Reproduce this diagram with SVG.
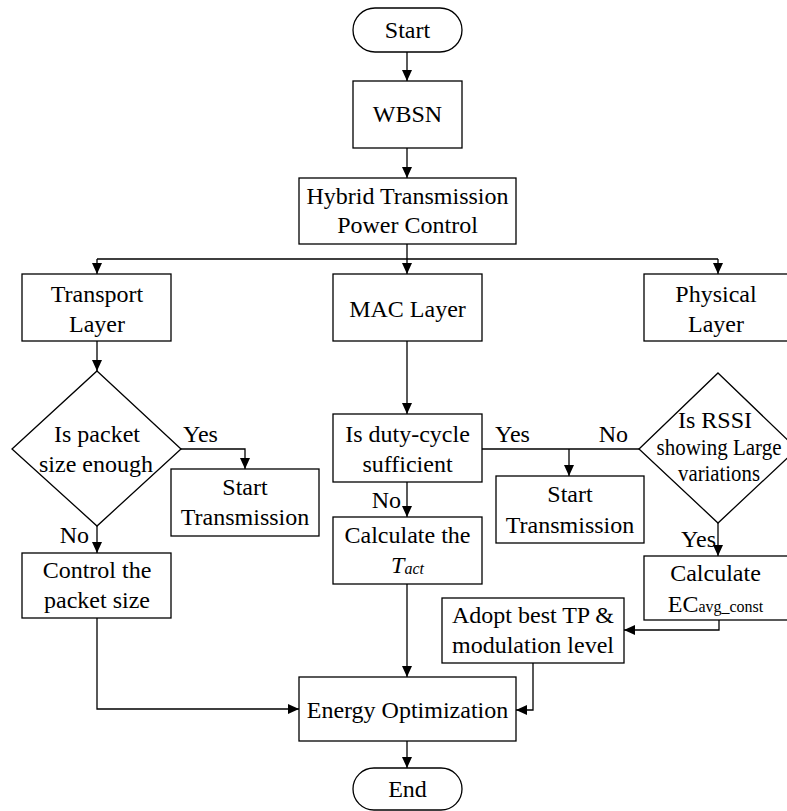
<svg xmlns="http://www.w3.org/2000/svg" width="787" height="811" viewBox="0 0 787 811">
<defs>
<marker id="arr" markerUnits="userSpaceOnUse" markerWidth="12" markerHeight="10" refX="11" refY="5" orient="auto">
<path d="M0,0 L11,5 L0,10 Z" fill="#000"/>
</marker>
<style>
.box{fill:#fff;stroke:#000;stroke-width:1.3}
.t{font-family:"Liberation Serif","Times New Roman",serif;font-size:24px;fill:#000;text-anchor:middle}
.l{font-family:"Liberation Serif","Times New Roman",serif;font-size:24px;fill:#000}
.sub{font-size:16px}
.c{fill:none;stroke:#000;stroke-width:1.3}
.a{marker-end:url(#arr)}
</style>
</defs>
<rect width="787" height="811" fill="#fff"/>
<g id="connectors">
<path class="c a" d="M407,52 V81"/>
<path class="c a" d="M407,148 V178"/>
<path class="c" d="M407,244 V259 M97,259 H718"/>
<path class="c a" d="M97,259 V274"/>
<path class="c a" d="M407,259 V274"/>
<path class="c a" d="M718,259 V274"/>
<path class="c a" d="M97,341 V371"/>
<path class="c a" d="M181,449 H245 V469"/>
<path class="c a" d="M97,526 V553"/>
<path class="c a" d="M97,618 V709 H299"/>
<path class="c a" d="M407,341 V414"/>
<path class="c a" d="M407,482 V517"/>
<path class="c" d="M482,449 H639"/>
<path class="c a" d="M569,449 V476"/>
<path class="c a" d="M407,584 V677"/>
<path class="c a" d="M718,523 V556"/>
<path class="c a" d="M719,620 V630 H624"/>
<path class="c a" d="M533,663 V710 H516"/>
<path class="c a" d="M407,741 V768"/>
</g>
<g id="start"><rect class="box" x="353" y="8" width="109" height="44" rx="22"/><text class="t" x="407.5" y="38">Start</text></g>
<g id="wbsn"><rect class="box" x="353" y="81" width="109" height="67"/><text class="t" x="407.5" y="122">WBSN</text></g>
<g id="hybrid"><rect class="box" x="299" y="178" width="217" height="66"/><text class="t" x="407.5" y="204">Hybrid Transmission</text><text class="t" x="407.5" y="233">Power Control</text></g>
<g id="transport"><rect class="box" x="22" y="274" width="149" height="67"/><text class="t" x="97" y="302">Transport</text><text class="t" x="97" y="332">Layer</text></g>
<g id="mac"><rect class="box" x="333" y="274" width="149" height="67"/><text class="t" x="407.5" y="317">MAC Layer</text></g>
<g id="physical"><rect class="box" x="644" y="274" width="150" height="67"/><text class="t" x="716" y="302">Physical</text><text class="t" x="716" y="332">Layer</text></g>
<g id="packet-decision"><path class="box" d="M97,371 L181,449 L97,526 L12,449 Z"/><text class="t" x="97" y="442">Is packet</text><text class="t" x="96" y="472">size enough</text></g>
<g id="start-tx-1"><rect class="box" x="171" y="469" width="148" height="67"/><text class="t" x="245" y="495">Start</text><text class="t" x="245" y="525">Transmission</text></g>
<g id="control-packet"><rect class="box" x="22" y="553" width="149" height="65"/><text class="t" x="97" y="578">Control the</text><text class="t" x="97" y="608">packet size</text></g>
<g id="duty-cycle"><rect class="box" x="333" y="414" width="149" height="68"/><text class="t" x="407.5" y="442">Is duty-cycle</text><text class="t" x="407.5" y="472">sufficient</text></g>
<g id="calc-tact"><rect class="box" x="333" y="517" width="149" height="67"/><text class="t" x="407.5" y="543">Calculate the</text><text class="t" x="407.5" y="573" font-style="italic">T<tspan class="sub" dy="1">act</tspan></text></g>
<g id="rssi-decision"><path class="box" d="M718,373 L797,449 L718,523 L639,449 Z"/><text class="t" x="715" y="428">Is RSSI</text><text class="t" x="719" y="455" textLength="125" lengthAdjust="spacingAndGlyphs">showing Large</text><text class="t" x="719" y="481" textLength="82" lengthAdjust="spacingAndGlyphs">variations</text></g>
<g id="start-tx-2"><rect class="box" x="496" y="476" width="148" height="67"/><text class="t" x="570" y="502">Start</text><text class="t" x="570" y="533">Transmission</text></g>
<g id="calc-ec"><rect class="box" x="644" y="556" width="150" height="64"/><text class="t" x="715.5" y="581">Calculate</text><text class="t" x="715.5" y="612">EC<tspan class="sub">avg_const</tspan></text></g>
<g id="adopt"><rect class="box" x="442" y="598" width="182" height="65"/><text class="t" x="533" y="623">Adopt best TP &amp;</text><text class="t" x="533" y="653">modulation level</text></g>
<g id="energy"><rect class="box" x="299" y="677" width="217" height="64"/><text class="t" x="407.5" y="718">Energy Optimization</text></g>
<g id="end"><rect class="box" x="353" y="768" width="109" height="42" rx="21"/><text class="t" x="407.5" y="797">End</text></g>
<g id="labels">
<text class="l" x="183" y="442">Yes</text>
<text class="l" x="89" y="543" text-anchor="end">No</text>
<text class="l" x="495" y="442">Yes</text>
<text class="l" x="628" y="442" text-anchor="end">No</text>
<text class="l" x="401" y="508" text-anchor="end">No</text>
<text class="l" x="716" y="547" text-anchor="end">Yes</text>
</g>
</svg>
